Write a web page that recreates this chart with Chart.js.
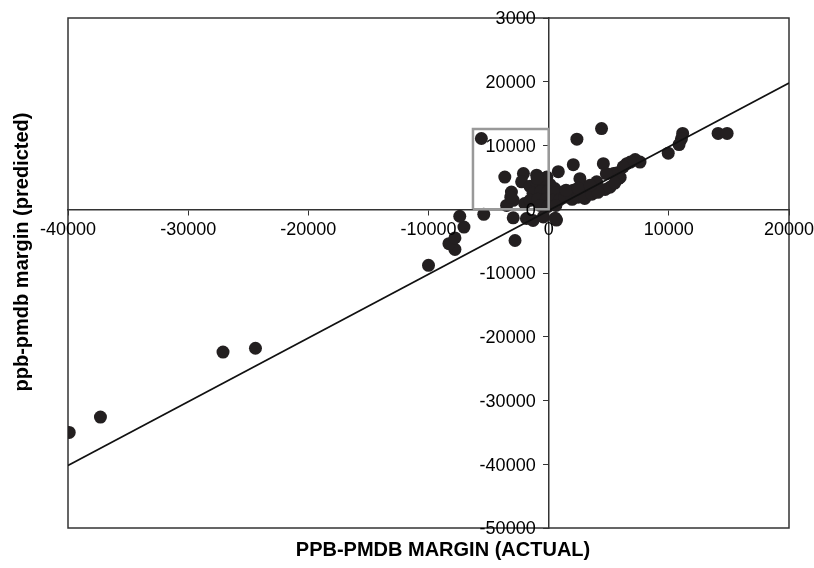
<!DOCTYPE html>
<html><head><meta charset="utf-8">
<script src="https://cdn.jsdelivr.net/npm/chart.js@4.4.1/dist/chart.umd.min.js"></script>
<style>html,body{margin:0;padding:0;background:#fff}#wrap{width:814px;height:568px}</style>
</head><body><div id="wrap"><canvas id="c" width="814" height="568"></canvas></div>
<script>
// ---- data ----
const actualMargin = [
  -39900, -37300, -27100, -24400, -10000, -7800, -8300, -7800, -7050, -7400, -5400, -2800,
  -5600, 2350, 4400, 14100, 14850, 11150, 11050, 10850, 9950, 7600, 7200, 6500,
  5950, 5650, 5400, 4800, 4550, 2050, 800, 4700, 5800, 4000, 3300, 2600,
  2050, 1200, 500, 2900, 650, -3650, -2100, -2250, -1000, -150, -3100, -2950,
  -3500, -2000, -2950, -1850, -1300, -450, 550, 6800, 6200, -3150,
  -1550, -950, -400, 100, -1300, -650, -50, 500, -1550, -900, -200, 350,
  950, -700, -50, 600, 1350, 1950, 2450, 3000, 3600, 4100, 5100, 5500,
  1450, 2450, 3450, -300, -950
];
const predictedMargin = [
  -35000, -32600, -22400, -21800, -8800, -6300, -5400, -4500, -2800, -1100, -800, -4900,
  11100, 11000, 12650, 11900, 11900, 11900, 11050, 10150, 8800, 7400, 7800, 7150,
  5000, 5700, 5600, 5600, 7150, 7000, 5900, 3100, 4800, 4300, 3500, 4800,
  3000, 2700, 3250, 2200, -1700, 5050, 5600, 4300, 5350, 5050, 2700, 1400,
  600, 900, -1350, -1450, -1750, -1200, -1400, 7400, 6650, 1900,
  3600, 3900, 4100, 3900, 2500, 2800, 2800, 2500, 1400, 1550, 1550, 1400,
  1550, 600, 450, 600, 1900, 1550, 1900, 1700, 2350, 2650, 3450, 4100,
  3000, 3300, 3750, 4850, 4850
];
const fitLineX = [-40000, 20000];
const fitLineY = [-40200, 19800];
const boxX = [-6300, 0, 0, -6300, -6300];
const boxY = [0, 0, 12600, 12600, 0];
const xTickValues = [-40000, -30000, -20000, -10000, 0, 10000, 20000];
const xTickLabels = ['-40000', '-30000', '-20000', '-10000', '0', '10000', '20000'];
const yTickValues = [-50000, -40000, -30000, -20000, -10000, 0, 10000, 20000, 30000];
const yTickLabels = ['-50000', '-40000', '-30000', '-20000', '-10000', '0', '10000', '20000', '3000'];
const xTitle = 'PPB-PMDB MARGIN (ACTUAL)';
const yTitle = 'ppb-pmdb margin (predicted)';

const FONT = "'Liberation Sans', Arial, sans-serif";
const pts = actualMargin.map((x, i) => ({x: x, y: predictedMargin[i]}));
const fit = fitLineX.map((x, i) => ({x: x, y: fitLineY[i]}));
const box = boxX.map((x, i) => ({x: x, y: boxY[i]}));

const framePlugin = {
  id: 'frame',
  beforeDatasetsDraw(chart) {
    const {ctx, chartArea: a} = chart;
    ctx.save();
    ctx.strokeStyle = '#333';
    ctx.lineWidth = 1.5;
    ctx.strokeRect(a.left, a.top, a.right - a.left, a.bottom - a.top);
    ctx.restore();
  },
  afterDatasetsDraw(chart) {
    const {ctx, scales: {x, y}} = chart;
    const x0 = x.getPixelForValue(0);
    const y0 = y.getPixelForValue(0);
    ctx.save();
    ctx.fillStyle = '#000';
    ctx.font = '18px ' + FONT;
    ctx.textAlign = 'center';
    ctx.textBaseline = 'middle';
    xTickValues.forEach((v, i) => ctx.fillText(xTickLabels[i], x.getPixelForValue(v), y0 + 21));
    ctx.textAlign = 'right';
    yTickValues.forEach((v, i) => ctx.fillText(yTickLabels[i], x0 - 13, y.getPixelForValue(v) + 1.5));
    ctx.restore();
  },
  afterDraw(chart) {
    const {ctx} = chart;
    ctx.save();
    ctx.fillStyle = '#000';
    ctx.font = 'bold 20px ' + FONT;
    ctx.textAlign = 'center';
    ctx.textBaseline = 'middle';
    ctx.fillText(xTitle, 443, 550);
    ctx.translate(22, 252);
    ctx.rotate(-Math.PI / 2);
    ctx.fillText(yTitle, 0, 0);
    ctx.restore();
  }
};

new Chart(document.getElementById('c'), {
  type: 'scatter',
  data: {
    datasets: [
      {data: pts, order: 3, backgroundColor: '#231f20', borderColor: '#231f20', borderWidth: 0, pointRadius: 6.5, pointHoverRadius: 6.5},
      {data: fit, order: 2, showLine: true, borderColor: '#111', borderWidth: 1.6, pointRadius: 0, fill: false},
      {data: box, order: 1, showLine: true, borderColor: '#999', borderWidth: 2.5, pointRadius: 0, fill: false}
    ]
  },
  options: {
    responsive: false,
    animation: false,
    devicePixelRatio: 1,
    layout: {padding: {left: 68, right: 25, top: 18, bottom: 40}},
    plugins: {legend: {display: false}, tooltip: {enabled: false}},
    scales: {
      x: {
        type: 'linear', min: -40000, max: 20000,
        position: {y: 0},
        afterBuildTicks: s => { s.ticks = xTickValues.map(v => ({value: v})); },
        ticks: {display: false, callback: v => xTickLabels[xTickValues.indexOf(v)]},
        grid: {drawOnChartArea: false, drawTicks: true, tickLength: 5, color: '#333', lineWidth: 1},
        border: {display: true, color: '#333', width: 1.5}
      },
      y: {
        type: 'linear', min: -50000, max: 30000,
        position: {x: 0},
        afterBuildTicks: s => { s.ticks = yTickValues.map(v => ({value: v})); },
        ticks: {display: false, callback: v => yTickLabels[yTickValues.indexOf(v)]},
        grid: {drawOnChartArea: false, drawTicks: true, tickLength: 5, color: '#333', lineWidth: 1},
        border: {display: true, color: '#333', width: 1.5}
      }
    }
  },
  plugins: [framePlugin]
});
</script>
</body></html>
